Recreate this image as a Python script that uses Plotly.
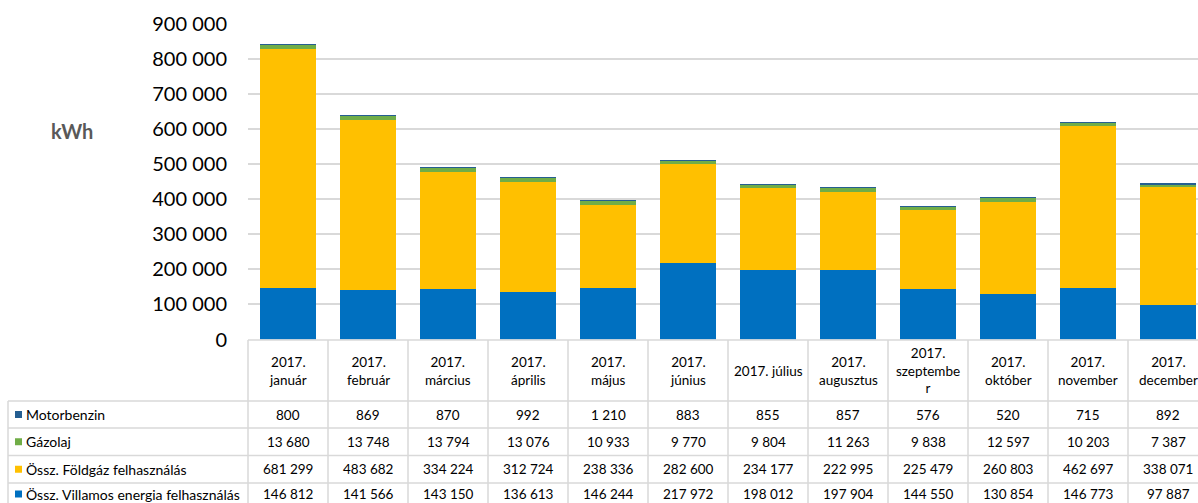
import plotly.graph_objects as go

W, H = 1198, 503

categories = ["2017. január", "2017. február", "2017. március", "2017. április", "2017. május",
              "2017. június", "2017. július", "2017. augusztus", "2017. szeptember",
              "2017. október", "2017. november", "2017. december"]
header_labels = ["2017.<br>január", "2017.<br>február", "2017.<br>március", "2017.<br>április",
                 "2017.<br>május", "2017.<br>június", "2017. július", "2017.<br>augusztus",
                 "2017.<br>szeptembe<br>r", "2017.<br>október", "2017.<br>november", "2017.<br>december"]

motorbenzin = [800, 869, 870, 992, 1210, 883, 855, 857, 576, 520, 715, 892]
gazolaj = [13680, 13748, 13794, 13076, 10933, 9770, 9804, 11263, 9838, 12597, 10203, 7387]
foldgaz = [681299, 483682, 334224, 312724, 238336, 282600, 234177, 222995, 225479, 260803, 462697, 338071]
villamos = [146812, 141566, 143150, 136613, 146244, 217972, 198012, 197904, 144550, 130854, 146773, 97887]

series_names = ["Össz. Villamos energia felhasználás", "Össz. Földgáz felhasználás", "Gázolaj", "Motorbenzin"]
series_values = [villamos, foldgaz, gazolaj, motorbenzin]
series_colors = ["#0070C0", "#FFC000", "#70AD47", "#255E91"]

FONT = "Lato"

fig = go.Figure()
for name, vals, col in zip(series_names, series_values, series_colors):
    fig.add_trace(go.Bar(x=categories, y=vals, name=name, marker=dict(color=col, line=dict(width=0)),
                         width=0.7))

# geometry (page pixels)
plot_l, plot_r = 248, 1198
plot_t, plot_b = 24, 339.5
cat_w = 80
x_lo = -0.5
x_hi = x_lo + (plot_r - plot_l) / cat_w


def px(p):
    return p / W


def py(p):
    return 1 - p / H


shapes = []
annotations = []
line_col = "#D9D9D9"
lw = 1.5

header_top, header_bot = 340, 401
row_lines = [401, 428, 455.5, 483, 511]
legend_l = 8

shapes.append(dict(type="line", xref="paper", yref="paper", x0=px(plot_l), x1=1.0,
                   y0=py(header_top), y1=py(header_top), line=dict(color=line_col, width=lw)))
for yl in row_lines:
    shapes.append(dict(type="line", xref="paper", yref="paper", x0=px(legend_l), x1=1.0,
                       y0=py(yl), y1=py(yl), line=dict(color=line_col, width=lw)))
for k in range(len(categories) + 1):
    xp = plot_l + k * cat_w
    if xp > W:
        break
    shapes.append(dict(type="line", xref="paper", yref="paper", x0=px(xp), x1=px(xp),
                       y0=py(header_top), y1=py(H + 10), line=dict(color=line_col, width=lw)))
shapes.append(dict(type="line", xref="paper", yref="paper", x0=px(legend_l), x1=px(legend_l),
                   y0=py(header_bot), y1=py(H + 10), line=dict(color=line_col, width=lw)))

for i, lab in enumerate(header_labels):
    annotations.append(dict(x=categories[i], xref="x", y=py((header_top + header_bot) / 2), yref="paper",
                            text=lab, showarrow=False, xanchor="center", yanchor="middle",
                            font=dict(family=FONT, size=13.5, color="#000000")))

rows = [("Motorbenzin", motorbenzin, "#255E91"),
        ("Gázolaj", gazolaj, "#70AD47"),
        ("Össz. Földgáz felhasználás", foldgaz, "#FFC000"),
        ("Össz. Villamos energia felhasználás", villamos, "#0070C0")]


def fmt(v):
    return f"{v:,}".replace(",", " ")


for r, (name, vals, col) in enumerate(rows):
    y0, y1 = row_lines[r], row_lines[r + 1]
    yc = (y0 + y1) / 2 if r < 3 else 494
    shapes.append(dict(type="rect", xref="paper", yref="paper", x0=px(15), x1=px(22),
                       y0=py(yc + 3.5), y1=py(yc - 3.5), line=dict(width=0), fillcolor=col))
    annotations.append(dict(x=px(24), xref="paper", y=py(yc), yref="paper", text=name, showarrow=False,
                            xanchor="left", yanchor="middle",
                            font=dict(family=FONT, size=14, color="#000000")))
    for i, v in enumerate(vals):
        annotations.append(dict(x=categories[i], xref="x", y=py(yc), yref="paper", text=fmt(v),
                                showarrow=False, xanchor="center", yanchor="middle",
                                font=dict(family=FONT, size=13.5, color="#000000")))

annotations.append(dict(x=px(72), xref="paper", y=py(131), yref="paper", text="<b>kWh</b>", showarrow=False,
                        xanchor="center", yanchor="middle", font=dict(family=FONT, size=20, color="#595959")))

fig.update_layout(
    width=W, height=H,
    barmode="stack",
    showlegend=False,
    separators=". ",
    margin=dict(l=0, r=0, t=0, b=0),
    paper_bgcolor="white", plot_bgcolor="white",
    font=dict(family=FONT, color="#000000"),
    xaxis=dict(domain=[px(plot_l), 1.0], range=[x_lo, x_hi], showticklabels=False, showgrid=False,
               zeroline=False, showline=False, ticks="", fixedrange=True),
    yaxis=dict(domain=[py(plot_b), py(plot_t)], range=[0, 900000], dtick=100000, tickformat=",d",
               showgrid=True, gridcolor="#D9D9D9", gridwidth=1.5, zeroline=False, showline=False,
               ticks="", ticklabelstandoff=20, automargin=False, fixedrange=True,
               tickfont=dict(family=FONT, size=20, color="#000000")),
    shapes=shapes,
    annotations=annotations,
)

fig.write_html("out.html", config={"displayModeBar": False},
               post_script="document.body.style.margin='0';document.body.style.overflow='hidden';")
